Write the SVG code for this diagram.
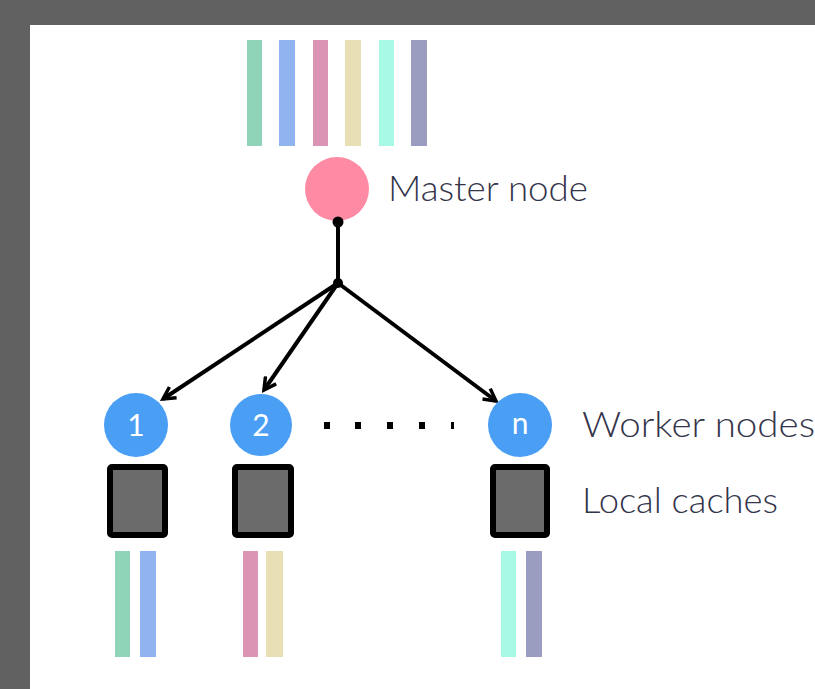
<svg xmlns="http://www.w3.org/2000/svg" width="815" height="689" viewBox="0 0 815 689">
<defs>
<style>
.bar{stroke:none}
.c1{fill:#8fd4b9}.c2{fill:#8fb4f0}.c3{fill:#dc94b5}.c4{fill:#e8e0b4}.c5{fill:#a8f8e6}.c6{fill:#9a9dc0}
.worker{fill:#4a9ff5}
.wlabel{fill:#ffffff;font-family:Lato,"Open Sans",sans-serif;font-size:30px;text-anchor:middle}
.cache{fill:#6b6b6b;stroke:#000;stroke-width:6}
.label{fill:#34344a;font-family:Lato,"Open Sans",sans-serif;font-size:36px;font-weight:300}
.conn{stroke:#000;stroke-width:4;fill:none}
.dot{fill:#000}
</style>
<marker id="arr" viewBox="0 0 16 16" refX="13" refY="8" markerWidth="16" markerHeight="16" markerUnits="userSpaceOnUse" orient="auto">
<path d="M1,1.5 L13,8 L1,14.5" fill="none" stroke="#000" stroke-width="3.5"/>
</marker>
</defs>
<rect x="0" y="0" width="815" height="689" fill="#616161"/>
<rect x="30" y="25" width="785" height="664" fill="#ffffff"/>

<g id="data-bars">
<rect class="bar c1" x="247" y="40" width="15" height="106"/>
<rect class="bar c2" x="279" y="40" width="16" height="106"/>
<rect class="bar c3" x="313" y="40" width="15" height="106"/>
<rect class="bar c4" x="345" y="40" width="16" height="106"/>
<rect class="bar c5" x="379" y="40" width="15" height="106"/>
<rect class="bar c6" x="411" y="40" width="16" height="106"/>
</g>

<g id="master">
<circle cx="337" cy="189" r="32" fill="#ff8aa4"/>
<text class="label" x="388" y="201" textLength="200" lengthAdjust="spacingAndGlyphs">Master node</text>
</g>

<g id="connectors">
<line class="conn" x1="338" y1="222" x2="338" y2="283"/>
<circle class="dot" cx="338" cy="222" r="5.5"/>
<circle class="dot" cx="338" cy="283" r="5"/>
<line class="conn" x1="338" y1="283" x2="163" y2="399" marker-end="url(#arr)"/>
<line class="conn" x1="338" y1="283" x2="264" y2="390" marker-end="url(#arr)"/>
<line class="conn" x1="338" y1="283" x2="496" y2="401" marker-end="url(#arr)"/>
</g>

<g id="worker-1">
<circle class="worker" cx="136" cy="425" r="32"/>
<text class="wlabel" x="136" y="436">1</text>
</g>
<g id="worker-2">
<circle class="worker" cx="261" cy="425" r="31"/>
<text class="wlabel" x="261" y="436">2</text>
</g>
<g id="ellipsis">
<rect x="324" y="422" width="6" height="7" fill="#000"/>
<rect x="355" y="422" width="6" height="7" fill="#000"/>
<rect x="387" y="422" width="6" height="7" fill="#000"/>
<rect x="419" y="422" width="6" height="7" fill="#000"/>
<rect x="451" y="422" width="3" height="7" fill="#000"/>
</g>
<g id="worker-n">
<circle class="worker" cx="520" cy="425" r="32"/>
<text class="wlabel" x="520" y="434">n</text>
<text class="label" x="582" y="437" textLength="233" lengthAdjust="spacingAndGlyphs">Worker nodes</text>
</g>

<g id="cache-1">
<rect class="cache" x="110" y="467" width="55" height="68" rx="2"/>
<rect class="bar c1" x="115" y="551" width="15" height="106"/>
<rect class="bar c2" x="140" y="551" width="16" height="106"/>
</g>
<g id="cache-2">
<rect class="cache" x="235" y="467" width="56" height="68" rx="2"/>
<rect class="bar c3" x="243" y="551" width="15" height="106"/>
<rect class="bar c4" x="266" y="551" width="17" height="106"/>
</g>
<g id="cache-n">
<rect class="cache" x="493" y="467" width="54" height="68" rx="2"/>
<rect class="bar c5" x="501" y="551" width="15" height="106"/>
<rect class="bar c6" x="526" y="551" width="16" height="106"/>
<text class="label" x="582" y="513" textLength="196" lengthAdjust="spacingAndGlyphs">Local caches</text>
</g>
</svg>
